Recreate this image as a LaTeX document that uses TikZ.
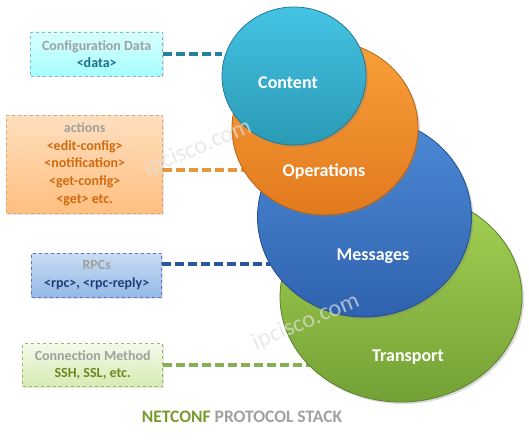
\documentclass[tikz,border=0pt]{standalone}
\usepackage{fontspec}
\setmainfont{Carlito}
\usepackage{tikz}
\usetikzlibrary{positioning,shapes.geometric,shadows,backgrounds}
\definecolor{contenttop}{HTML}{45C3E4}
\definecolor{contentbot}{HTML}{2A9AB5}
\definecolor{opstop}{HTML}{F9A03A}
\definecolor{opsbot}{HTML}{E27A1E}
\definecolor{msgtop}{HTML}{4D8AD6}
\definecolor{msgbot}{HTML}{2F62AE}
\definecolor{transtop}{HTML}{A6D254}
\definecolor{transbot}{HTML}{74A136}
\definecolor{headgray}{HTML}{A0A0A0}
\definecolor{datateal}{HTML}{1F6F8C}
\definecolor{opsorange}{HTML}{D06A10}
\definecolor{rpcblue}{HTML}{1F3F7A}
\definecolor{sshgreen}{HTML}{6A8A20}
\definecolor{netgreen}{HTML}{7A9A2E}

\begin{document}
\begin{tikzpicture}[x=1pt,y=-1pt,
    layer/.style={ellipse,inner sep=0pt,line width=0.8pt,
        drop shadow={shadow xshift=2pt,shadow yshift=-2pt,opacity=0.3}},
    layertext/.style={text=white,font=\bfseries\fontsize{18}{20}\selectfont},
    infobox/.style={rectangle,dashed,line width=0.6pt,align=center,anchor=east,
        font=\bfseries\fontsize{14}{17.7}\selectfont,
        drop shadow={shadow xshift=1.5pt,shadow yshift=-1.5pt,opacity=0.2}},
    link/.style={line width=3.4pt,dash pattern=on 9pt off 4pt},
    stamp/.style={text=gray!25,opacity=0.7,rotate=23,font=\fontsize{24}{26}\selectfont}]

    \useasboundingbox (0,0) rectangle (529,441);

    % Info boxes
    \node[infobox,minimum width=132,minimum height=44,draw=cyan!40!gray!80,
        top color=cyan!15,bottom color=cyan!35!white] (data) at (163,54) {
        \textcolor{headgray}{Configuration Data}\\
        \textcolor{datateal}{<data>}
    };
    \node[infobox,minimum width=156,minimum height=98,draw=orange!50!gray!70,
        top color=orange!25!white,bottom color=orange!50!white] (actions) at (163,164) {
        \textcolor{headgray}{actions}\\
        \textcolor{opsorange}{<edit-config>}\\
        \textcolor{opsorange}{<notification>}\\
        \textcolor{opsorange}{<get-config>}\\
        \textcolor{opsorange}{<get> etc.}
    };
    \node[infobox,minimum width=130,minimum height=44,draw=blue!40!gray!80,
        top color=msgtop!30!white,bottom color=msgtop!60!white] (rpc) at (162,275) {
        \textcolor{headgray}{RPCs}\\
        \textcolor{rpcblue}{<rpc>, <rpc-reply>}
    };
    \node[infobox,minimum width=140,minimum height=43,draw=transtop!70!gray,
        top color=transtop!12!white,bottom color=transtop!45!white] (conn) at (163,365) {
        \textcolor{headgray}{Connection Method}\\
        \textcolor{sshgreen}{SSH, SSL, etc.}
    };

    % Stack layers
    \node[layer,minimum width=242,minimum height=210,draw=transbot!80!black,
        top color=transtop,bottom color=transbot] (transport) at (401,297) {};
    \node[layer,minimum width=214,minimum height=200,draw=msgbot!80!black,
        top color=msgtop,bottom color=msgbot] (messages) at (364.5,217) {};
    \node[layer,minimum width=186,minimum height=174,draw=opsbot!80!black,
        top color=opstop,bottom color=opsbot] (operations) at (325,128) {};
    \node[layer,minimum width=144,minimum height=138,draw=contentbot!80!black,
        top color=contenttop,bottom color=contentbot] (content) at (294,76) {};

    % Connectors, behind the layers
    \begin{scope}[on background layer]
        \draw[link,contentbot!85!black] (data.east) -- (data.east -| content.west);
        \draw[link,opstop!70!brown] ([yshift=-6pt]actions.east) -- ([yshift=-6pt]actions.east -| operations.center);
        \draw[link,msgbot!90!black] ([yshift=11pt]rpc.east) -- ([yshift=11pt]rpc.east -| messages.center);
        \draw[link,transbot!85!white] (conn.east) -- (conn.east -| transport.center);
    \end{scope}

    % Layer names
    \node[layertext] (contentlbl) at (288,83) {Content};
    \node[layertext] (opslbl) at (324,172) {Operations};
    \node[layertext] (msglbl) at (373,256) {Messages};
    \node[layertext] (translbl) at (408,357) {Transport};

    % Watermarks
    \node[stamp] (mark1) at (198,148) {ipcisco.com};
    \node[stamp] (mark2) at (306,322) {ipcisco.com};

    % Title
    \node[font=\bfseries\fontsize{17.5}{20}\selectfont,text=headgray] (title) at (242,417)
        {\textcolor{netgreen}{NETCONF} PROTOCOL STACK};

\end{tikzpicture}
\end{document}
